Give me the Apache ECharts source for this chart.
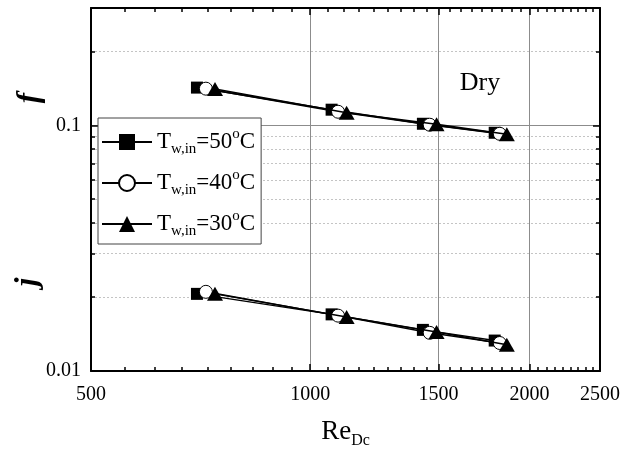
<!DOCTYPE html>
<html>
<head>
<meta charset="utf-8">
<script src="https://cdn.jsdelivr.net/npm/echarts@6/dist/echarts.min.js"></script>
<style>
  html, body { margin: 0; padding: 0; background: #fff; }
  #chart { width: 634px; height: 452px; }
</style>
</head>
<body>
<div id="chart"></div>
<script>
// data
const temps = [50, 40, 30];
const reDc50 = [699, 1070, 1428, 1792];
const reDc40 = [719, 1092, 1459, 1821];
const reDc30 = [740, 1122, 1491, 1862];
const f50 = [0.1423, 0.1157, 0.1014, 0.0932];
const f40 = [0.1409, 0.1135, 0.1005, 0.0923];
const f30 = [0.1405, 0.1125, 0.1010, 0.0920];
const j50 = [0.0206, 0.0170, 0.0147, 0.0133];
const j40 = [0.0210, 0.0168, 0.0143, 0.0130];
const j30 = [0.0206, 0.0166, 0.0144, 0.0128];

// axis ticks
const xTickLabels = [500, 1000, 1500, 2000, 2500];
const yTickValues = [0.01, 0.1];
const yTickLabels = ['0.01', '0.1'];
const yMinorTicks = [0.02, 0.03, 0.04, 0.05, 0.06, 0.07, 0.08, 0.09, 0.2];
const xMin = 500, xMax = 2500, yMin = 0.01, yMax = 0.3;

const lg = Math.log10;
const xMinorTicks = [];
for (let k = 1; k < 36; k++) {
  if (k % 9 !== 0) xMinorTicks.push(500 + k * 500 / 9);
}

const FONT = '"Liberation Serif", "Times New Roman", serif';
const seriesNames = temps.map(t => 'T_w,in=' + t + '°C');
const symbols = ['rect', 'circle', 'triangle'];
const symbolSizes = [12, 13, [16, 14]];
const reSets = [reDc50, reDc40, reDc30];
const fSets = [f50, f40, f30];
const jSets = [j50, j40, j30];

function pts(xs, ys) {
  return xs.map((x, i) => [lg(x), lg(ys[i])]);
}

function xAx(gridIndex, pos, ticks, major) {
  return {
    type: 'value', gridIndex: gridIndex, position: pos,
    min: lg(xMin), max: lg(xMax),
    axisLine: { show: major, onZero: false, lineStyle: { color: '#000', width: 2 } },
    axisTick: { show: true, inside: true, length: major ? 7 : 4, customValues: ticks.map(lg),
      lineStyle: { color: '#000', width: 1.5 } },
    axisLabel: { show: false },
    splitLine: { show: false }
  };
}
function yAx(gridIndex, pos, ticks, major) {
  return {
    type: 'value', gridIndex: gridIndex, position: pos,
    min: lg(yMin), max: lg(yMax),
    axisLine: { show: major, onZero: false, lineStyle: { color: '#000', width: 2 } },
    axisTick: { show: true, inside: true, length: major ? 7 : 4, customValues: ticks.map(lg),
      lineStyle: { color: '#000', width: 1.5 } },
    axisLabel: { show: false },
    splitLine: { show: false }
  };
}

const xBottom = xAx(0, 'bottom', xTickLabels, true);
xBottom.axisLabel = {
  show: true, customValues: xTickLabels.map(lg), margin: 14,
  color: '#000', fontSize: 20, fontFamily: FONT,
  formatter: v => String(Math.round(Math.pow(10, v)))
};
xBottom.splitLine = { show: true, lineStyle: { color: '#8c8c8c', width: 1, type: 'solid' } };
xBottom.name = '{a|Re}{b|Dc}';
xBottom.nameLocation = 'middle';
xBottom.nameGap = 44;
xBottom.nameTextStyle = {
  rich: {
    a: { fontSize: 27, fontFamily: FONT, color: '#000', lineHeight: 34 },
    b: { fontSize: 16, fontFamily: FONT, color: '#000', lineHeight: 16, verticalAlign: 'bottom' }
  }
};

const yLeft = yAx(0, 'left', yTickValues, true);
yLeft.axisLabel = {
  show: true, customValues: yTickValues.map(lg), margin: 10,
  color: '#000', fontSize: 20, fontFamily: FONT,
  formatter: v => yTickLabels[yTickValues.findIndex(t => Math.abs(lg(t) - v) < 1e-6)]
};
yLeft.splitLine = { show: true, lineStyle: { color: '#8c8c8c', width: 1, type: 'solid' } };

const yLeftMinor = yAx(1, 'left', yMinorTicks, false);
yLeftMinor.splitLine = { show: true, lineStyle: { color: '#c4c4c4', width: 1, type: [2, 2] } };

const series = [];
temps.forEach((t, i) => {
  const base = {
    name: seriesNames[i], type: 'line', xAxisIndex: 0, yAxisIndex: 0,
    symbol: symbols[i], symbolSize: symbolSizes[i],
    lineStyle: { color: '#000', width: 1.5 },
    itemStyle: i === 1
      ? { color: '#fff', borderColor: '#000', borderWidth: 1 }
      : { color: '#000', borderColor: '#000', borderWidth: 0 },
    z: 2 + i
  };
  series.push(Object.assign({}, base, { data: pts(reSets[i], fSets[i]) }));
  series.push(Object.assign({}, base, { data: pts(reSets[i], jSets[i]) }));
});

const gridBox = { left: 91, right: 34, top: 8, bottom: 81, outerBoundsMode: 'none', containLabel: false };

const chart = echarts.init(document.getElementById('chart'));
chart.setOption({
  animation: false,
  grid: [Object.assign({}, gridBox), Object.assign({}, gridBox)],
  xAxis: [
    xBottom,
    xAx(0, 'top', xTickLabels, true),
    xAx(1, 'bottom', xMinorTicks, false),
    xAx(1, 'top', xMinorTicks, false)
  ],
  yAxis: [
    yLeft,
    yAx(0, 'right', yTickValues, true),
    yLeftMinor,
    yAx(1, 'right', yMinorTicks, false)
  ],
  legend: {
    data: seriesNames,
    orient: 'vertical',
    left: 98, top: 118,
    padding: [9, 6, 5, 3],
    itemGap: 11,
    itemWidth: 50, itemHeight: 20,
    backgroundColor: '#fff',
    borderColor: '#444', borderWidth: 1,
    borderRadius: 0,
    formatter: name => {
      const t = name.match(/=(\d+)/)[1];
      return '{t|T}{s|w,in}{t|=' + t + '}{p|o}{t|C}';
    },
    textStyle: {
      rich: {
        t: { fontSize: 23, fontFamily: FONT, color: '#000', lineHeight: 30 },
        s: { fontSize: 15, fontFamily: FONT, color: '#000', lineHeight: 14, verticalAlign: 'bottom' },
        p: { fontSize: 15, fontFamily: FONT, color: '#000', lineHeight: 22, verticalAlign: 'top' }
      }
    }
  },
  graphic: [
    { type: 'text', x: 30, y: 98, rotation: Math.PI / 2,
      style: { text: 'f', font: 'italic bold 31px ' + FONT, fill: '#000', align: 'center', verticalAlign: 'middle' } },
    { type: 'text', x: 28, y: 282, rotation: Math.PI / 2,
      style: { text: 'j', font: 'italic bold 31px ' + FONT, fill: '#000', align: 'center', verticalAlign: 'middle' } },
    { type: 'text', x: 480, y: 83,
      style: { text: 'Dry', font: '26px ' + FONT, fill: '#000', align: 'center', verticalAlign: 'middle' } }
  ],
  series: series
});
</script>
</body>
</html>
